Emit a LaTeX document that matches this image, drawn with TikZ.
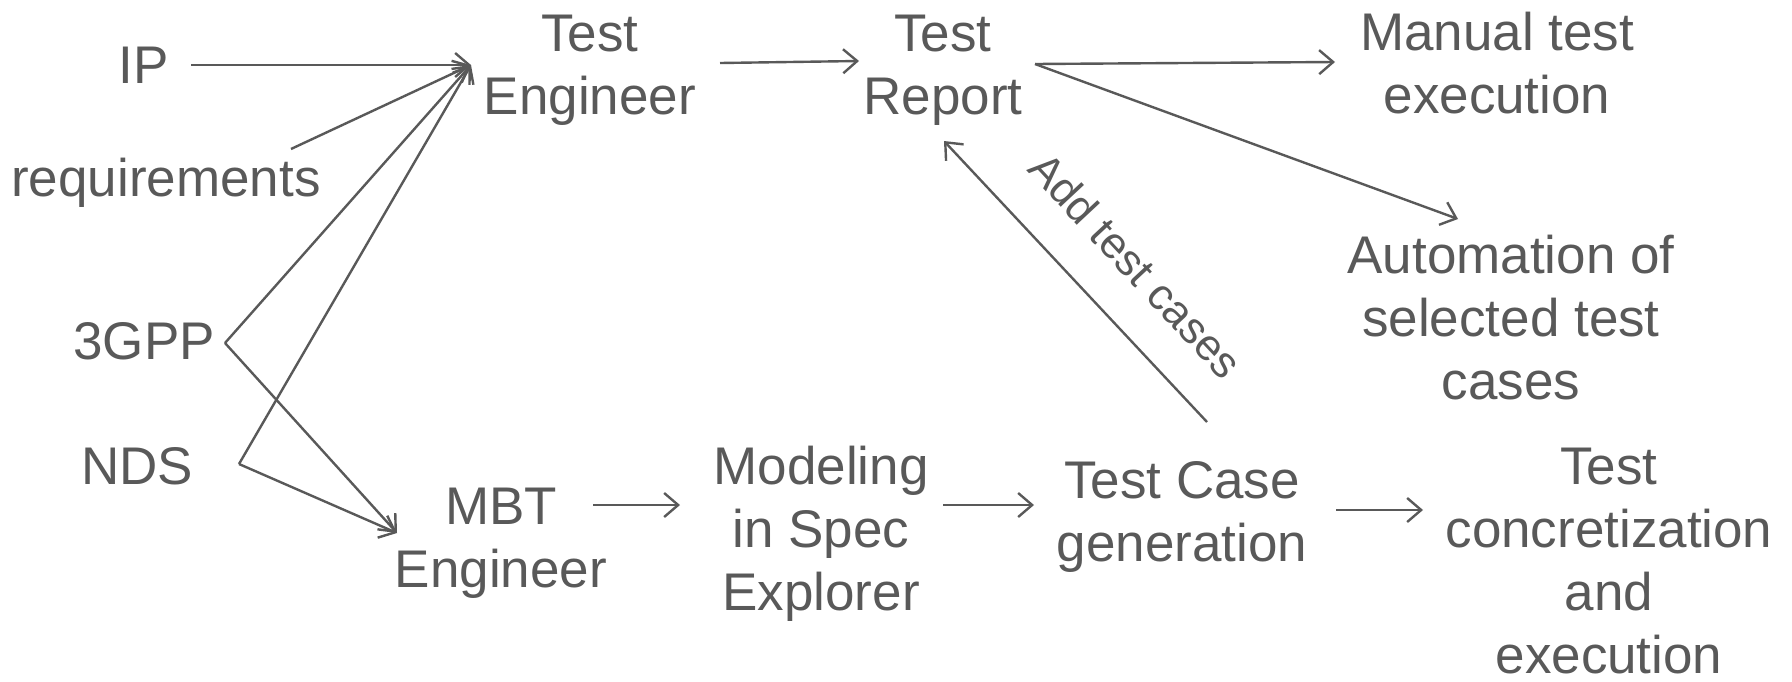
\documentclass[tikz,border=0pt]{standalone}
\usepackage{fontspec}
\setmainfont{Liberation Sans}
\usetikzlibrary{arrows.meta}
\definecolor{ink}{HTML}{595959}
\tikzset{
  lbl/.style={text=ink, align=center, inner sep=0pt,
    font=\fontsize{53}{63}\selectfont},
  conn/.style={draw=ink, line width=2.4pt,
    -{Straight Barb[length=14pt,width=24pt,line width=2.4pt]}},
}
\begin{document}
\begin{tikzpicture}[x=1pt,y=-1pt]
\useasboundingbox (0,0) rectangle (1792,681);

% sources
\node[lbl] (ip)   at (144,65)  {IP};
\node[lbl] (req)  at (166,183) {requirements};
\node[lbl] (gpp)  at (144,341) {3GPP};
\node[lbl] (nds)  at (137,466) {NDS};

% manual testing branch
\node[lbl] (te)   at (590,70.5) {Test\\Engineer};
\node[lbl] (tr)   at (943,70.5) {Test\\Report};
\node[lbl] (man)  at (1497,63.5) {Manual test\\execution};
\node[lbl] (auto) at (1511,318) {Automation of\\selected test\\cases};

% model-based testing branch
\node[lbl] (mbt)  at (501,543.5) {MBT\\Engineer};
\node[lbl] (mod)  at (821,533.5) {Modeling\\in Spec\\Explorer};
\node[lbl] (tcg)  at (1182,516.5) {Test Case\\generation};
\node[lbl] (conc) at (1609,561) {Test\\concretization\\and\\execution};

% inputs to the engineers
\draw[conn] ([shift={(47,0)}]ip.center)   -- ([shift={(-119,-5.5)}]te.center);
\draw[conn] ([shift={(125,-34)}]req.center) -- ([shift={(-119,-5.5)}]te.center);
\draw[conn] ([shift={(81,2)}]gpp.center)  -- ([shift={(-119,-5.5)}]te.center);
\draw[conn] ([shift={(102,-2)}]nds.center) -- ([shift={(-119,-5.5)}]te.center);
\draw[conn] ([shift={(81,2)}]gpp.center)  -- ([shift={(-104,-10.5)}]mbt.center);
\draw[conn] ([shift={(102,-2)}]nds.center) -- ([shift={(-104,-10.5)}]mbt.center);

% manual flow
\draw[conn] ([shift={(130,-7.5)}]te.center) -- ([shift={(-84,-9.5)}]tr.center);
\draw[conn] ([shift={(92,-6.5)}]tr.center) -- ([shift={(-162,-1.5)}]man.center);
\draw[conn] ([shift={(92,-6.5)}]tr.center) -- ([shift={(-53,-99)}]auto.center);

% model-based flow
\draw[conn] ([shift={(92,-38.5)}]mbt.center) -- ([shift={(-141,-28.5)}]mod.center);
\draw[conn] ([shift={(122,-28.5)}]mod.center) -- ([shift={(-148,-11.5)}]tcg.center);
\draw[conn] ([shift={(154,-6.5)}]tcg.center) -- ([shift={(-186,-51)}]conc.center);

% feedback of generated cases into the report
\draw[conn] ([shift={(25,-94.5)}]tcg.center) -- ([shift={(1,70.5)}]tr.center);
\node[text=ink, inner sep=0pt, rotate=-47, font=\fontsize{44}{50}\selectfont]
  (add) at (1136,265) {Add test cases};
\end{tikzpicture}
\end{document}
